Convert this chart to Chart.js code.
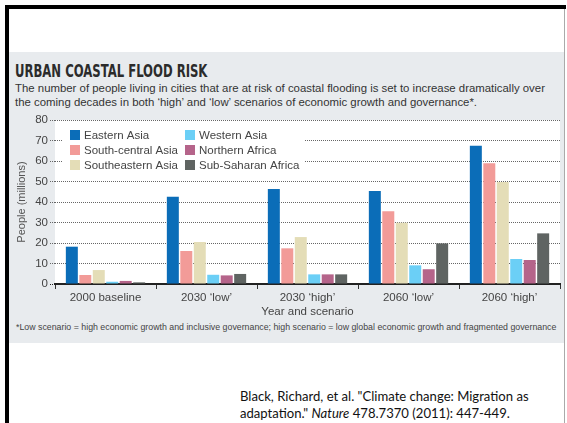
<!DOCTYPE html>
<html lang="en">

<head>
    <meta charset="UTF-8" />
    <title>Urban coastal flood risk</title>
    <script src="https://cdn.jsdelivr.net/npm/chart.js@4.4.0/dist/chart.umd.min.js"></script>
    <style>
        body { margin: 0; width: 567px; height: 423px; background: #fff; position: relative; overflow: hidden;
               font-family: 'Liberation Sans', Arial, sans-serif; }
        #frameTop { position: absolute; left: 5px; top: 5px; width: 561px; height: 4px; background: #000; }
        #frameLeft { position: absolute; left: 5px; top: 5px; width: 4px; height: 418px; background: #000; }
        #frameRight { position: absolute; left: 564px; top: 9px; width: 1px; height: 414px; background: #aaa; }
        #panel { position: absolute; left: 9px; top: 52px; width: 555px; height: 291px; background: #e8ebee; }
        #title { position: absolute; left: 15px; top: 60px; font-family: 'Liberation Sans Narrow', 'DejaVu Sans Condensed', sans-serif;
                 font-weight: bold; font-size: 18px; color: #2b2b2b; white-space: nowrap;
                 transform: scaleX(0.72); transform-origin: left top; }
        #sub { position: absolute; left: 15px; top: 82px; font-size: 11.4px; line-height: 13.5px; color: #333; white-space: nowrap; }
        #myChart { position: absolute; left: 9px; top: 110px; }
        #note { position: absolute; left: 16px; top: 322px; font-size: 8.8px; color: #444; white-space: nowrap; }
        #cite { position: absolute; left: 240px; top: 388px; font-family: Lato, 'Open Sans', sans-serif; font-size: 13.1px;
                line-height: 17px; color: #111; }
    </style>
</head>

<body>
    <div id="frameTop"></div>
    <div id="frameLeft"></div>
    <div id="frameRight"></div>
    <div id="panel"></div>
    <div id="title">URBAN COASTAL FLOOD RISK</div>
    <div id="sub">The number of people living in cities that are at risk of coastal flooding is set to increase dramatically over<br>the coming decades in both ‘high’ and ‘low’ scenarios of economic growth and governance*.</div>
    <canvas id="myChart" width="556" height="212"></canvas>
    <div id="note">*Low scenario = high economic growth and inclusive governance; high scenario = low global economic growth and fragmented governance</div>
    <div id="cite">Black, Richard, et al. "Climate change: Migration as<br>adaptation." <i>Nature</i> 478.7370 (2011): 447-449.</div>

    <script>
        const scenarios = ['2000 baseline', '2030 ‘low’', '2030 ‘high’', '2060 ‘low’', '2060 ‘high’'];
        const yTicks = [0, 10, 20, 30, 40, 50, 60, 70, 80];

        const easternAsia = [18.2, 42.6, 46.3, 45.4, 67.5];
        const southCentralAsia = [4.4, 16.1, 17.4, 35.5, 58.9];
        const southeasternAsia = [6.8, 20.5, 22.9, 29.9, 49.8];
        const westernAsia = [1.1, 4.5, 4.7, 9.1, 12.2];
        const northernAfrica = [1.5, 4.2, 4.7, 7.2, 11.7];
        const subSaharanAfrica = [0.8, 4.9, 4.7, 19.8, 24.7];

        const regions = ['Eastern Asia', 'South-central Asia', 'Southeastern Asia', 'Western Asia', 'Northern Africa', 'Sub-Saharan Africa'];
        const colours = ['#0b6db8', '#f29b98', '#e4ddb7', '#6bcff6', '#b5648a', '#5f6462'];
        const series = [easternAsia, southCentralAsia, southeasternAsia, westernAsia, northernAfrica, subSaharanAfrica];

        Chart.defaults.font.family = "'Liberation Sans', Arial, sans-serif";

        // white plot background
        const plotBg = {
            id: 'plotBg',
            beforeDraw(chart) {
                const a = chart.chartArea, ctx = chart.ctx;
                ctx.save();
                ctx.fillStyle = '#fff';
                ctx.fillRect(a.left, a.top, a.right - a.left, a.bottom - a.top);
                ctx.restore();
            }
        };

        // two-column legend inside the plot, top left
        const boxLegend = {
            id: 'boxLegend',
            afterDraw(chart) {
                const a = chart.chartArea, ctx = chart.ctx;
                ctx.save();
                ctx.fillStyle = '#fff';
                ctx.fillRect(a.left + 7, a.top + 5, 243, 51);
                ctx.font = "11.5px 'Liberation Sans', Arial, sans-serif";
                ctx.textBaseline = 'middle';
                chart.data.datasets.forEach((ds, i) => {
                    const col = Math.floor(i / 3), row = i % 3;
                    const x = a.left + 15 + col * 115;
                    const y = a.top + 15 + row * 15;
                    ctx.fillStyle = ds.backgroundColor;
                    ctx.fillRect(x, y - 5, 10, 10);
                    ctx.fillStyle = '#444';
                    ctx.fillText(ds.label, x + 14, y + 0.5);
                });
                ctx.restore();
            }
        };

        const ctx = document.getElementById('myChart').getContext('2d');
        const myChart = new Chart(ctx, {
            type: 'bar',
            data: {
                labels: scenarios,
                datasets: regions.map((r, i) => ({
                    label: r,
                    data: series[i],
                    backgroundColor: colours[i],
                    borderWidth: 0,
                    categoryPercentage: 0.8,
                    barPercentage: 0.89
                }))
            },
            options: {
                responsive: false,
                animation: false,
                layout: { padding: { top: 10, right: 5, bottom: 0, left: 0 } },
                plugins: {
                    legend: { display: false },
                    tooltip: { enabled: false }
                },
                scales: {
                    x: {
                        grid: { drawOnChartArea: false, drawTicks: true, tickLength: 5, color: '#333' },
                        border: { display: true, color: '#222', width: 2 },
                        ticks: { color: '#444', font: { size: 11.5 }, padding: 2 },
                        title: { display: true, text: 'Year and scenario', color: '#444', font: { size: 11.5 }, padding: { top: 0, bottom: 3 } },
                        afterFit: (scale) => { scale.height = 38; }
                    },
                    y: {
                        min: 0,
                        max: 80,
                        afterBuildTicks: (scale) => { scale.ticks = yTicks.map(v => ({ value: v })); },
                        grid: {
                            color: (c) => c.tick && c.tick.value === 0 ? '#222' : '#666',
                            tickLength: 5,
                            tickBorderDash: [1, 1]
                        },
                        border: { display: false, dash: [1, 1] },
                        ticks: { color: '#444', font: { size: 11.5 }, padding: 2 },
                        title: { display: true, text: 'People (millions)', color: '#555', font: { size: 11 }, padding: { top: 6, bottom: 0 } },
                        afterFit: (scale) => { scale.width = 46; }
                    }
                }
            },
            plugins: [plotBg, boxLegend]
        });
    </script>
</body>

</html>
